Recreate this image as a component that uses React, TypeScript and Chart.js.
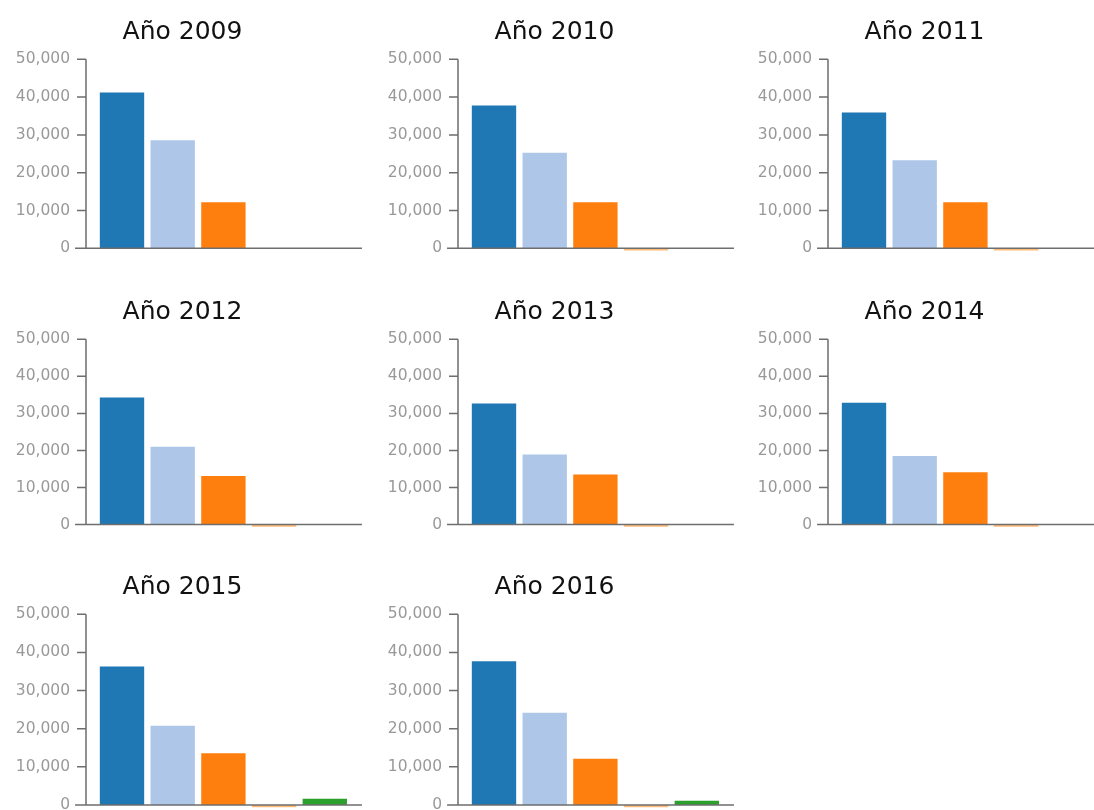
import React, { useEffect, useRef } from 'react';
import { Chart, registerables } from 'chart.js';

Chart.register(...registerables);

// ---------- data ----------
const years = ['2009', '2010', '2011', '2012', '2013', '2014', '2015', '2016'];
const categories = ['Categoría 1', 'Categoría 2', 'Categoría 3', 'Categoría 4', 'Categoría 5'];
const serie1 = [41200, 37800, 35900, 34300, 32700, 32900, 36300, 37700];
const serie2 = [28600, 25300, 23300, 21000, 18900, 18500, 20800, 24200];
const serie3 = [12200, 12200, 12200, 13100, 13500, 14100, 13600, 12100];
const serie4 = [null, -600, -600, -600, -600, -600, -600, -600];
const serie5 = [null, null, null, null, null, null, 1650, 1130];
const yTickValues = [0, 10000, 20000, 30000, 40000, 50000];

// ---------- style / layout ----------
const barColors = ['#1f77b4', '#aec7e8', '#ff7f0e', '#ffbb78', '#2ca02c'];
const Y_MIN = -1500;
const Y_MAX = 50000;
const CANVAS_W = 364;
const CANVAS_H = 260;
const colX = [0, 372, 742];
const rows = [
  { top: 0, span: 189 },
  { top: 279.7, span: 185.3 },
  { top: 555, span: 190.7 },
];
const PLOT_TOP = 59.3;
const PLOT_LEFT = 96.65;
const PAD_LEFT = 14.85;
const AXIS_W = PLOT_LEFT - PAD_LEFT;
const PAD_RIGHT = 13.85;
const LABEL_RIGHT = 70;
const AXIS_GAP = 10.65;
const TICK_LEN = 9;
const AXIS_COLOR = '#6e6e6e';
const TITLE_SIZE = 25;
const TITLE_PAD_TOP = 17;

const axisPlugin = {
  id: 'd3axes',
  afterDatasetsDraw(chart: any) {
    const { ctx, chartArea, scales } = chart;
    const y = scales.y;
    const ax = chartArea.left - AXIS_GAP;
    const y0 = y.getPixelForValue(0);
    const yTop = y.getPixelForValue(Y_MAX);
    ctx.save();
    ctx.strokeStyle = AXIS_COLOR;
    ctx.lineWidth = 1.5;
    ctx.beginPath();
    ctx.moveTo(ax, yTop);
    ctx.lineTo(ax, y0);
    yTickValues.forEach((v) => {
      const py = y.getPixelForValue(v);
      ctx.moveTo(ax - TICK_LEN, py);
      ctx.lineTo(ax, py);
    });
    ctx.moveTo(chartArea.left - 21.6, y0);
    ctx.lineTo(chartArea.right + 11.8, y0);
    ctx.stroke();
    ctx.restore();
  },
};

function Panel({ index }: { index: number }) {
  const ref = useRef<HTMLCanvasElement>(null);
  const row = rows[Math.floor(index / 3)];
  const left = colX[index % 3];
  const padBottom = CANVAS_H - (PLOT_TOP + row.span * ((Y_MAX - Y_MIN) / Y_MAX));

  useEffect(() => {
    if (!ref.current) return;
    const values = [serie1[index], serie2[index], serie3[index], serie4[index], serie5[index]];
    const chart = new Chart(ref.current, {
      type: 'bar',
      data: {
        labels: categories,
        datasets: [
          {
            data: values as any,
            backgroundColor: barColors,
            borderWidth: 0,
            barPercentage: 0.875,
            categoryPercentage: 1,
          },
        ],
      },
      plugins: [axisPlugin],
      options: {
        animation: false,
        responsive: false,
        events: [],
        layout: { padding: { left: PAD_LEFT, right: PAD_RIGHT, top: 0, bottom: padBottom } },
        plugins: {
          legend: { display: false },
          tooltip: { enabled: false },
          title: {
            display: true,
            text: `Año ${years[index]}`,
            color: '#111111',
            font: { family: "'DejaVu Sans'", size: TITLE_SIZE, weight: 'normal' as any, lineHeight: 1.2 },
            padding: { top: TITLE_PAD_TOP, bottom: PLOT_TOP - TITLE_PAD_TOP - TITLE_SIZE * 1.2 },
          },
        },
        scales: {
          x: { display: false },
          y: {
            min: Y_MIN,
            max: Y_MAX,
            afterFit: (s: any) => {
              s.width = AXIS_W;
              s.paddingTop = 0;
              s.paddingBottom = 0;
            },
            afterBuildTicks: (s: any) => {
              s.ticks = yTickValues.map((v) => ({ value: v }));
            },
            ticks: {
              stepSize: 10000,
              includeBounds: false,
              padding: PLOT_LEFT - LABEL_RIGHT,
              color: '#999999',
              font: { family: "'DejaVu Sans'", size: 15.5 },
              callback: (v: any) => Number(v).toLocaleString('en-US'),
            },
            grid: { display: false, drawTicks: false },
            border: { display: false },
          },
        },
      },
    });
    return () => chart.destroy();
  }, [index]);

  return (
    <canvas
      ref={ref}
      width={CANVAS_W}
      height={CANVAS_H}
      style={{ position: 'absolute', left: left, top: row.top, width: CANVAS_W, height: CANVAS_H }}
    />
  );
}

export default function App() {
  return (
    <div
      style={{
        position: 'absolute',
        left: 0,
        top: 0,
        width: 1094,
        height: 810,
        overflow: 'hidden',
        background: '#ffffff',
      }}
    >
      {years.map((_, i) => (
        <Panel key={i} index={i} />
      ))}
    </div>
  );
}
